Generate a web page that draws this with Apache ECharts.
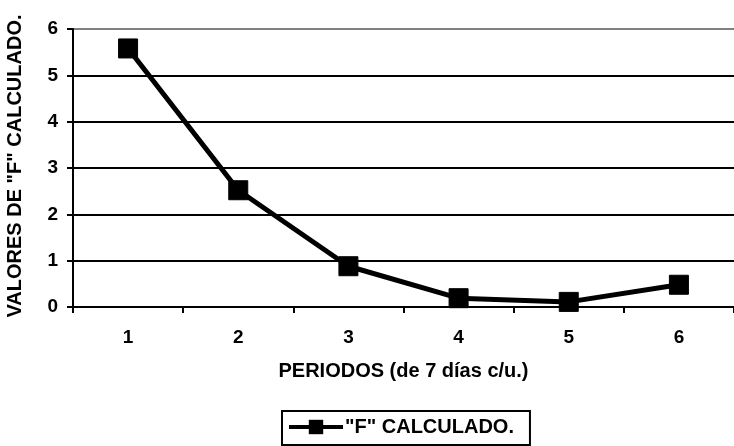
<!DOCTYPE html>
<html>
<head>
<meta charset="utf-8">
<title>Valores de "F" calculado</title>
<script src="https://cdn.jsdelivr.net/npm/echarts@6/dist/echarts.min.js"></script>
<style>
  html, body { margin: 0; padding: 0; background: #ffffff; }
  #chart { width: 734px; height: 446px; }
</style>
</head>
<body>
<div id="chart"></div>
<script>
// Periods (7 days each) and the computed F value for each one
const periods = ['1', '2', '3', '4', '5', '6'];
const fValues = [5.58, 2.52, 0.88, 0.19, 0.11, 0.48];
const seriesName = '"F" CALCULADO.';
const xTitle = 'PERIODOS (de 7 días c/u.)';
const yTitle = 'VALORES DE "F" CALCULADO.';

const FONT = '"Liberation Sans", Arial, sans-serif';

const chart = echarts.init(document.getElementById('chart'), null, { renderer: 'canvas' });

chart.setOption({
  backgroundColor: '#ffffff',
  animation: false,
  grid: { left: 73, right: -7, top: 29, bottom: 139, containLabel: false },
  xAxis: {
    type: 'category',
    data: periods,
    boundaryGap: true,
    name: xTitle,
    nameLocation: 'middle',
    nameGap: 54,
    nameTextStyle: { fontFamily: FONT, fontWeight: 'bold', fontSize: 20, color: '#000' },
    axisLine: { show: true, lineStyle: { color: '#000', width: 2 } },
    axisTick: { show: true, length: 6, interval: 0, lineStyle: { color: '#000', width: 2 } },
    axisLabel: { margin: 21, fontFamily: FONT, fontWeight: 'bold', fontSize: 19, color: '#000' },
    splitLine: { show: false }
  },
  yAxis: {
    type: 'value',
    min: 0,
    max: 6,
    interval: 1,
    axisLine: { show: true, lineStyle: { color: '#000', width: 2 } },
    axisTick: { show: true, length: 6, lineStyle: { color: '#000', width: 2 } },
    axisLabel: { margin: 15, fontFamily: FONT, fontWeight: 'bold', fontSize: 19, color: '#000' },
    splitLine: {
      show: true,
      lineStyle: { color: ['#000', '#000', '#000', '#000', '#000', '#000', '#808080'], width: 2 }
    }
  },
  legend: {
    show: true,
    left: 282,
    top: 411,
    orient: 'horizontal',
    padding: [6, 16, 8, 5],
    borderColor: '#000',
    borderWidth: 2,
    itemWidth: 54,
    itemHeight: 18,
    itemGap: 0,
    lineStyle: { width: 4, color: '#000' },
    itemStyle: { color: '#000' },
    textStyle: { fontFamily: FONT, fontWeight: 'bold', fontSize: 20, color: '#000', padding: [0, 0, 0, -3] },
    data: [seriesName]
  },
  graphic: [
    {
      type: 'text',
      x: 15,
      y: 166,
      rotation: Math.PI / 2,
      style: {
        text: yTitle,
        fontFamily: FONT,
        fontWeight: 'bold',
        fontSize: 20,
        fill: '#000',
        align: 'center',
        verticalAlign: 'middle'
      }
    }
  ],
  series: [
    {
      name: seriesName,
      type: 'line',
      data: fValues,
      symbol: 'rect',
      symbolSize: 19,
      showAllSymbol: true,
      lineStyle: { color: '#000', width: 5 },
      itemStyle: { color: '#000', borderColor: '#000' },
      z: 5
    }
  ]
});
</script>
</body>
</html>
